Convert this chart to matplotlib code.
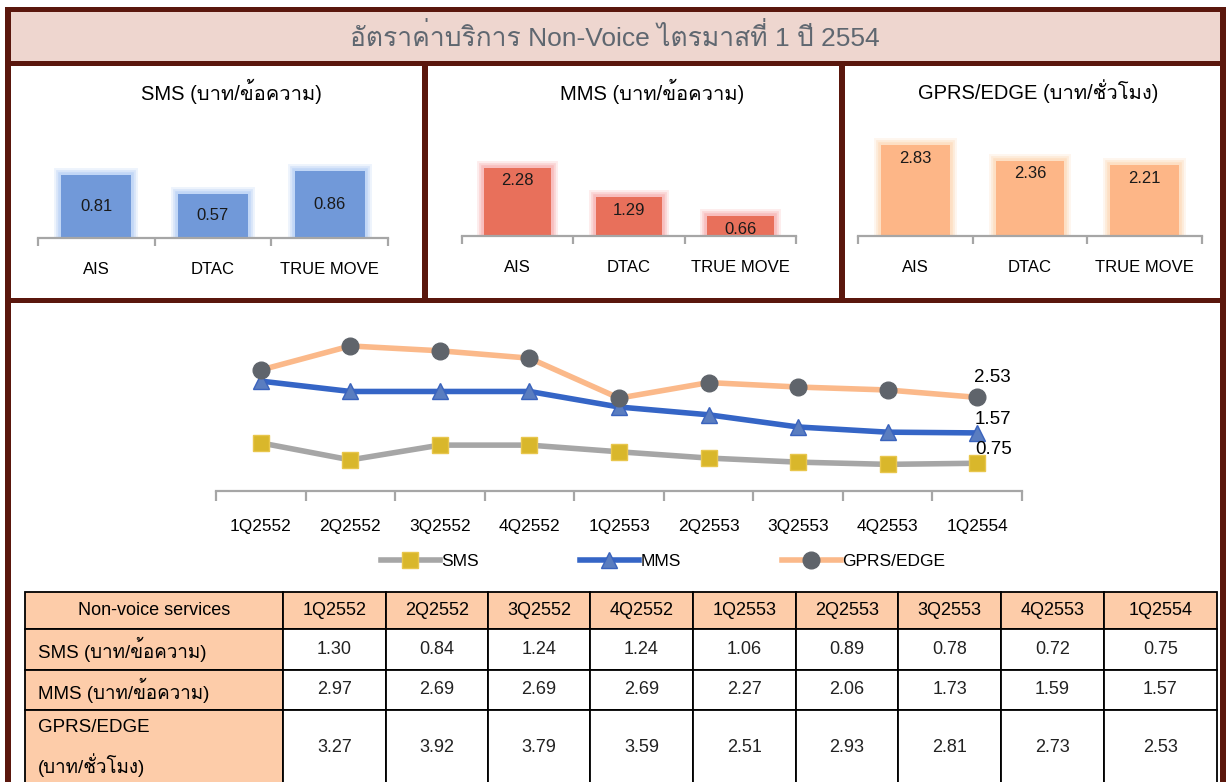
import numpy as np
import matplotlib
matplotlib.use('Agg')
import matplotlib.pyplot as plt
from matplotlib import font_manager
from matplotlib.ft2font import FT2Font
from matplotlib.patches import Rectangle

W, H = 1227, 782

# ---- data ----
title = 'อัตราค่าบริการ Non-Voice ไตรมาสที่ 1 ปี 2554'
operators = ['AIS', 'DTAC', 'TRUE MOVE']
sms_rate = [0.81, 0.57, 0.86]
mms_rate = [2.28, 1.29, 0.66]
gprs_rate = [2.83, 2.36, 2.21]
panel_titles = ['SMS (บาท/ข้อความ)', 'MMS (บาท/ข้อความ)', 'GPRS/EDGE (บาท/ชั่วโมง)']

quarters = ['1Q2552', '2Q2552', '3Q2552', '4Q2552', '1Q2553',
            '2Q2553', '3Q2553', '4Q2553', '1Q2554']
sms_trend = [1.30, 0.84, 1.24, 1.24, 1.06, 0.89, 0.78, 0.72, 0.75]
mms_trend = [2.97, 2.69, 2.69, 2.69, 2.27, 2.06, 1.73, 1.59, 1.57]
gprs_trend = [3.27, 3.92, 3.79, 3.59, 2.51, 2.93, 2.81, 2.73, 2.53]
series_names = ['SMS', 'MMS', 'GPRS/EDGE']

table_head = 'Non-voice services'
row_labels = ['SMS (บาท/ข้อความ)', 'MMS (บาท/ข้อความ)', 'GPRS/EDGE\n(บาท/ชั่วโมง)']


# find a font that has Thai glyphs
def thai_font():
    for f in font_manager.fontManager.ttflist:
        try:
            if 0x0E1A in FT2Font(f.fname).get_charmap():
                return f.name
        except Exception:
            continue
    return None


th = thai_font()
fams = ['Liberation Sans'] + ([th] if th else []) + ['DejaVu Sans']
plt.rcParams['font.family'] = fams

dark = '#5a170d'
axis_gray = '#a6a6a6'


def px_axes(fig, x0, y0, x1, y1):
    ax = fig.add_axes([x0 / W, 1 - y1 / H, (x1 - x0) / W, (y1 - y0) / H])
    ax.set_facecolor('none')
    return ax


fig = plt.figure(figsize=(W / 100, H / 100), dpi=100)

# background / frame in pixel coords
bg = fig.add_axes([0, 0, 1, 1])
bg.set_xlim(0, W)
bg.set_ylim(H, 0)
bg.axis('off')
bg.add_patch(Rectangle((11, 12), 1209, 49, color='#eed6cf', lw=0))
for r in [(5, 7, 1221, 5), (5, 7, 6, 775), (1220, 7, 6, 775),
          (5, 61, 1221, 5), (422, 61, 6, 242), (839, 61, 6, 242),
          (5, 298, 1221, 5)]:
    bg.add_patch(Rectangle(r[:2], r[2], r[3], color=dark, lw=0))
bg.text(615, 37, title, ha='center', va='center', fontsize=19, color='#5f6770')

# ---- bar panels ----
panels = [
    (sms_rate, (38, 110, 388, 238), 1.64, '#7199d9', '#a8c6f4', 'center', 231),
    (mms_rate, (462, 110, 796, 236), 4.2, '#e8705b', '#f6a3a3', 'top', 652),
    (gprs_rate, (858, 110, 1202, 236), 3.94, '#fdb687', '#fdd2ab', 'top', 1038),
]
for i, (vals, box, ymax, col, glow, lab, tx) in enumerate(panels):
    ax = px_axes(fig, *box)
    x = np.arange(len(operators))
    for lw, a in [(10, 0.2), (7, 0.3), (4, 0.45)]:
        ax.bar(x, vals, width=0.6, color='none', edgecolor=glow, linewidth=lw, alpha=a)
    bars = ax.bar(x, vals, width=0.6, color=col, zorder=3)
    ax.set_xlim(-0.5, 2.5)
    ax.set_ylim(0, ymax)
    for s in ['top', 'left', 'right']:
        ax.spines[s].set_visible(False)
    ax.spines['bottom'].set_color(axis_gray)
    ax.spines['bottom'].set_linewidth(1.6)
    ax.spines['bottom'].set_zorder(5)
    ax.set_yticks([])
    ax.set_xticks(x)
    ax.set_xticklabels(operators, fontsize=12)
    ax.tick_params(axis='x', length=0, pad=17)
    ax.set_xticks(np.arange(-0.5, 3, 1), minor=True)
    ax.tick_params(axis='x', which='minor', length=6, width=1.6, color=axis_gray)
    if lab == 'center':
        ax.bar_label(bars, labels=[f'{v:.2f}' for v in vals], label_type='center',
                     fontsize=12, color='#1a1a1a', zorder=6)
    else:
        for xi, v in zip(x, vals):
            ax.annotate(f'{v:.2f}', (xi, v), xytext=(0, -4), textcoords='offset points',
                        ha='center', va='top', fontsize=12, color='#1a1a1a', zorder=6)
    bg.text(tx, 91, panel_titles[i], ha='center', va='center', fontsize=14.5, color='black')

# ---- trend line chart ----
ax = px_axes(fig, 216, 320, 1022, 491)
x = np.arange(len(quarters))
styles = [
    (sms_trend, '#a6a6a6', 's', '#d9b72b', '#e8c64c', 11, (12, 10)),
    (mms_trend, '#3565c6', '^', '#5a7dc0', '#3a63bd', 11, (11, 10)),
    (gprs_trend, '#fbb98a', 'o', '#5f646b', '#5f646b', 12, (11, 14)),
]
handles = []
for vals, lc, mk, mfc, mec, ms, off in styles:
    ln, = ax.plot(x, vals, color=lc, lw=4, marker=mk, ms=ms, mfc=mfc, mec=mec,
                  mew=1, solid_joinstyle='round', clip_on=False)
    handles.append(ln)
    ax.annotate(f'{vals[-1]:.2f}', (x[-1], vals[-1]), xytext=off,
                textcoords='offset points', ha='center', va='center', fontsize=13.5)
ax.set_xlim(-0.5, 8.5)
ax.set_ylim(0, 171 / 37)
for s in ['top', 'left', 'right']:
    ax.spines[s].set_visible(False)
ax.spines['bottom'].set_color(axis_gray)
ax.spines['bottom'].set_linewidth(1.6)
ax.set_yticks([])
ax.set_xticks(x)
ax.set_xticklabels(quarters, fontsize=12.4)
ax.tick_params(axis='x', length=0, pad=20)
ax.set_xticks(np.arange(-0.5, 9, 1), minor=True)
ax.tick_params(axis='x', which='minor', length=7, width=1.6, color=axis_gray)

leg = fig.legend(handles, series_names, loc='center', bbox_to_anchor=(663 / W, 1 - 561 / H),
                 ncol=3, frameon=False, fontsize=12.5, handlelength=3.4, handletextpad=0.1,
                 columnspacing=5.8)

# ---- data table ----
col_x = [25, 283, 386, 488, 590, 693, 796, 898, 1001, 1104, 1217]
row_y = [592, 629, 670, 710, 786]
peach = '#fdcca9'
rows = [sms_trend, mms_trend, gprs_trend]
for r in range(4):
    for c in range(len(col_x) - 1):
        x0, x1 = col_x[c], col_x[c + 1]
        y0, y1 = row_y[r], row_y[r + 1]
        fc = peach if (r == 0 or c == 0) else 'white'
        bg.add_patch(Rectangle((x0, y0), x1 - x0, y1 - y0, facecolor=fc,
                               edgecolor='black', lw=1.3))
        yc = (y0 + y1) / 2
        if r == 0:
            txt = table_head if c == 0 else quarters[c - 1]
            bg.text((x0 + x1) / 2, yc, txt, ha='center', va='center', fontsize=13)
        elif c == 0:
            bg.text(x0 + 13, yc, row_labels[r - 1], ha='left', va='center',
                    fontsize=13.5, linespacing=1.9)
        else:
            bg.text((x0 + x1) / 2, yc, f'{rows[r - 1][c - 1]:.2f}', ha='center',
                    va='center', fontsize=13, color='#222222')

fig.savefig('out.png', dpi=100)
